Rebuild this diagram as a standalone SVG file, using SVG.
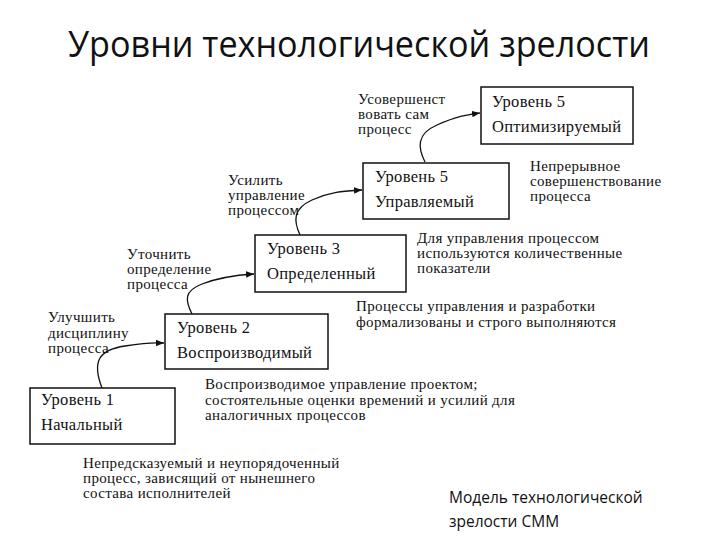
<svg xmlns="http://www.w3.org/2000/svg" width="720" height="540" viewBox="0 0 720 540">
<style>
.title{font-family:"Open Sans","Noto Sans",sans-serif;font-size:36px;fill:#111}
.cap{font-family:"Open Sans","Noto Sans",sans-serif;font-size:15.5px;fill:#111}
.box{fill:#fff;stroke:#111;stroke-width:1.5}
.bt{font-family:"Liberation Serif","Times New Roman",serif;font-size:16.5px;letter-spacing:0.3px;fill:#111}
.an{font-family:"Liberation Serif","Times New Roman",serif;font-size:15px;letter-spacing:0.35px;fill:#111}
.conn{fill:none;stroke:#111;stroke-width:1.3}
</style>
<defs>
<marker id="ah" viewBox="0 0 10 10" refX="10" refY="5" markerWidth="8" markerHeight="8" markerUnits="userSpaceOnUse" orient="auto">
<path d="M0,1 L10,5 L0,9 Z" fill="#111"/>
</marker>
</defs>
<rect width="720" height="540" fill="#fff"/>
<text class="title" x="68" y="57" textLength="582" lengthAdjust="spacingAndGlyphs">Уровни технологической зрелости</text>

<g id="connectors">
<path class="conn" marker-end="url(#ah)" d="M102,388 C92,362 98,350 125,346 S150,343 164,343"/>
<path class="conn" marker-end="url(#ah)" d="M192,314 C185,300 184,291 202,284 S238,275 254,274"/>
<path class="conn" marker-end="url(#ah)" d="M300,235 C294,222 292,209 312,200 S346,191 362,190"/>
<path class="conn" marker-end="url(#ah)" d="M425,162 C418,148 416,134 437,125 S466,115 480,113"/>
</g>

<g id="level5">
<rect class="box" x="481" y="87" width="152" height="57"/>
<text class="bt" x="492" y="107">Уровень 5</text>
<text class="bt" x="492" y="132">Оптимизируемый</text>
</g>
<g id="level4">
<rect class="box" x="363" y="163" width="146" height="56"/>
<text class="bt" x="375" y="182">Уровень 5</text>
<text class="bt" x="375" y="207">Управляемый</text>
</g>
<g id="level3">
<rect class="box" x="255" y="235" width="151" height="57"/>
<text class="bt" x="267" y="254">Уровень 3</text>
<text class="bt" x="267" y="279">Определенный</text>
</g>
<g id="level2">
<rect class="box" x="165" y="314" width="163" height="55"/>
<text class="bt" x="177" y="333">Уровень 2</text>
<text class="bt" x="177" y="358">Воспроизводимый</text>
</g>
<g id="level1">
<rect class="box" x="30" y="388" width="145" height="56"/>
<text class="bt" x="41" y="405">Уровень 1</text>
<text class="bt" x="41" y="430">Начальный</text>
</g>

<g id="labels">
<text class="an" x="358" y="104">Усовершенст</text>
<text class="an" x="358" y="119">вовать сам</text>
<text class="an" x="358" y="134">процесс</text>

<text class="an" x="530" y="171">Непрерывное</text>
<text class="an" x="530" y="186">совершенствование</text>
<text class="an" x="530" y="201">процесса</text>

<text class="an" x="228" y="185">Усилить</text>
<text class="an" x="228" y="200">управление</text>
<text class="an" x="228" y="215">процессом</text>

<text class="an" x="417" y="243">Для управления процессом</text>
<text class="an" x="417" y="258">используются количественные</text>
<text class="an" x="417" y="273">показатели</text>

<text class="an" x="127" y="259">Уточнить</text>
<text class="an" x="127" y="274">определение</text>
<text class="an" x="127" y="289">процесса</text>

<text class="an" x="356" y="311">Процессы управления и разработки</text>
<text class="an" x="356" y="327">формализованы и строго выполняются</text>

<text class="an" x="48" y="322">Улучшить</text>
<text class="an" x="48" y="338">дисциплину</text>
<text class="an" x="48" y="353">процесса</text>

<text class="an" x="205" y="389">Воспроизводимое управление проектом;</text>
<text class="an" x="205" y="405">состоятельные оценки времений и усилий для</text>
<text class="an" x="205" y="420">аналогичных процессов</text>

<text class="an" x="83" y="468">Непредсказуемый и неупорядоченный</text>
<text class="an" x="83" y="483">процесс, зависящий от нынешнего</text>
<text class="an" x="83" y="498">состава исполнителей</text>

<text class="cap" x="449" y="503">Модель технологической</text>
<text class="cap" x="449" y="527">зрелости CMM</text>
</g>
</svg>
